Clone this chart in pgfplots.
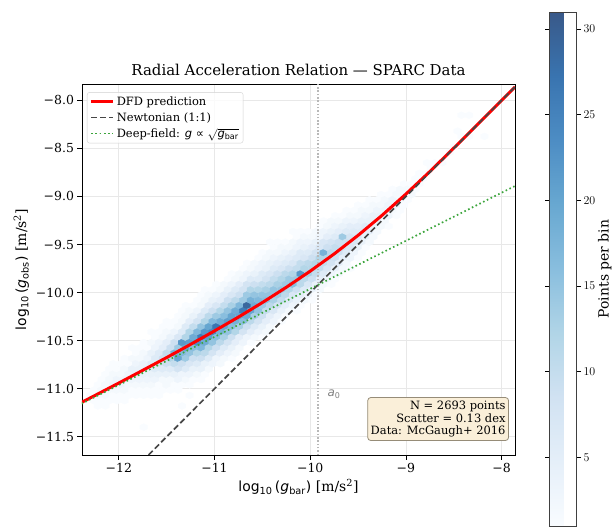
\documentclass[border=0pt]{standalone}
\usepackage{fontspec}
\setmainfont{DejaVu Serif}
\newfontfamily\dvsans{DejaVu Sans}
\usepackage{pgfplots}
\pgfplotsset{compat=1.18}

\definecolor{dfdred}{RGB}{255,0,0}
\definecolor{newtgray}{RGB}{70,70,70}
\definecolor{deepgreen}{RGB}{60,165,60}
\definecolor{boxface}{RGB}{250,239,217}
\definecolor{boxedge}{RGB}{150,140,120}

% pointy-top hexagon, sized to one hexbin cell (dx=0.08, dy=0.11 at ~96bp/unit)
\pgfdeclareplotmark{hexbin}{%
  \pgfpathmoveto{\pgfpoint{3.84bp}{-1.76bp}}%
  \pgfpathlineto{\pgfpoint{3.84bp}{1.76bp}}%
  \pgfpathlineto{\pgfpoint{0bp}{3.52bp}}%
  \pgfpathlineto{\pgfpoint{-3.84bp}{1.76bp}}%
  \pgfpathlineto{\pgfpoint{-3.84bp}{-1.76bp}}%
  \pgfpathlineto{\pgfpoint{0bp}{-3.52bp}}%
  \pgfpathclose
  \pgfusepathqfillstroke}

\newcommand{\lgten}[1]{{\dvsans log\textsubscript{10}\,(\textit{g}\textsubscript{#1})}}

\pgfplotstableread{
x y c
-12.30 -11.070 1
-12.26 -11.125 1
-12.26 -11.015 1
-12.22 -11.070 2
-12.22 -10.960 1
-12.22 -11.180 1
-12.18 -11.015 2
-12.18 -11.125 1
-12.18 -10.905 1
-12.14 -10.960 2
-12.14 -11.070 2
-12.14 -10.850 1
-12.14 -11.180 1
-12.10 -11.015 2
-12.10 -10.905 2
-12.10 -10.795 1
-12.10 -11.125 1
-12.06 -10.960 3
-12.06 -11.070 1
-12.06 -10.850 2
-12.06 -10.740 1
-12.02 -11.015 2
-12.02 -10.905 3
-12.02 -10.795 1
-12.02 -11.125 1
-11.98 -10.960 3
-11.98 -10.850 2
-11.98 -11.070 1
-11.98 -10.740 1
-11.94 -10.905 3
-11.94 -11.015 2
-11.94 -10.795 2
-11.94 -10.685 1
-11.94 -11.125 1
-11.90 -10.850 3
-11.90 -10.960 2
-11.90 -10.740 1
-11.90 -11.070 1
-11.86 -10.905 3
-11.86 -10.795 4
-11.86 -10.685 2
-11.86 -11.015 1
-11.86 -10.575 1
-11.82 -10.850 4
-11.82 -10.960 2
-11.82 -10.740 3
-11.82 -10.630 1
-11.82 -11.070 1
-11.78 -10.795 4
-11.78 -10.905 3
-11.78 -10.685 2
-11.78 -11.015 1
-11.78 -10.575 1
-11.74 -10.850 4
-11.74 -10.740 4
-11.74 -10.960 2
-11.74 -10.630 2
-11.74 -10.520 1
-11.74 -11.070 1
-11.74 -11.400 1
-11.70 -10.795 5
-11.70 -10.685 3
-11.70 -10.905 3
-11.70 -10.575 1
-11.70 -11.015 1
-11.66 -10.740 6
-11.66 -10.850 4
-11.66 -10.630 4
-11.66 -10.960 2
-11.66 -10.520 2
-11.66 -10.410 1
-11.66 -11.070 1
-11.62 -10.795 6
-11.62 -10.685 6
-11.62 -10.905 3
-11.62 -10.575 3
-11.62 -10.465 1
-11.62 -11.015 1
-11.58 -10.740 8
-11.58 -10.630 6
-11.58 -10.850 4
-11.58 -10.520 3
-11.58 -10.960 1
-11.58 -10.410 1
-11.58 -11.070 1
-11.54 -10.685 9
-11.54 -10.795 6
-11.54 -10.575 5
-11.54 -10.905 2
-11.54 -10.465 2
-11.54 -10.355 1
-11.54 -11.015 1
-11.50 -10.740 9
-11.50 -10.630 10
-11.50 -10.850 4
-11.50 -10.520 5
-11.50 -10.960 2
-11.50 -10.410 2
-11.50 -10.300 1
-11.46 -10.685 12
-11.46 -10.575 9
-11.46 -10.795 6
-11.46 -10.465 4
-11.46 -10.905 2
-11.46 -10.355 1
-11.46 -11.015 1
-11.42 -10.630 18
-11.42 -10.740 10
-11.42 -10.520 9
-11.42 -10.850 4
-11.42 -10.410 3
-11.42 -10.960 1
-11.42 -10.300 1
-11.38 -10.685 20
-11.38 -10.575 14
-11.38 -10.795 8
-11.38 -10.465 7
-11.38 -10.905 3
-11.38 -10.355 2
-11.38 -10.245 1
-11.38 -11.015 1
-11.34 -10.630 17
-11.34 -10.520 22
-11.34 -10.740 9
-11.34 -10.410 6
-11.34 -10.850 3
-11.34 -10.300 2
-11.34 -10.960 1
-11.34 -10.190 1
-11.34 -11.180 1
-11.30 -10.575 20
-11.30 -10.465 12
-11.30 -10.685 14
-11.30 -10.355 6
-11.30 -10.795 6
-11.30 -10.245 2
-11.30 -10.905 2
-11.30 -10.135 1
-11.26 -10.520 21
-11.26 -10.630 15
-11.26 -10.410 12
-11.26 -10.740 7
-11.26 -10.300 5
-11.26 -10.850 3
-11.26 -10.190 2
-11.26 -10.960 1
-11.26 -11.070 1
-11.22 -10.575 16
-11.22 -10.465 19
-11.22 -10.685 9
-11.22 -10.355 10
-11.22 -10.795 4
-11.22 -10.245 4
-11.22 -10.135 1
-11.22 -10.905 1
-11.18 -10.520 23
-11.18 -10.410 17
-11.18 -10.630 12
-11.18 -10.300 8
-11.18 -10.740 6
-11.18 -10.190 3
-11.18 -10.850 2
-11.18 -10.080 1
-11.14 -10.465 26
-11.14 -10.575 17
-11.14 -10.355 15
-11.14 -10.685 9
-11.14 -10.245 7
-11.14 -10.795 4
-11.14 -10.135 2
-11.14 -10.905 1
-11.14 -10.025 1
-11.10 -10.410 22
-11.10 -10.520 19
-11.10 -10.300 12
-11.10 -10.630 11
-11.10 -10.190 6
-11.10 -10.740 4
-11.10 -10.080 2
-11.10 -10.850 1
-11.10 -9.970 1
-11.06 -10.465 21
-11.06 -10.355 20
-11.06 -10.575 12
-11.06 -10.245 11
-11.06 -10.685 6
-11.06 -10.135 5
-11.06 -10.795 2
-11.06 -10.025 2
-11.02 -10.410 24
-11.02 -10.520 15
-11.02 -10.300 17
-11.02 -10.630 8
-11.02 -10.190 9
-11.02 -10.740 3
-11.02 -10.080 4
-11.02 -9.970 1
-10.98 -10.355 27
-10.98 -10.465 16
-10.98 -10.245 14
-10.98 -10.575 9
-10.98 -10.135 7
-10.98 -10.685 3
-10.98 -10.025 3
-10.98 -9.915 1
-10.94 -10.410 18
-10.94 -10.300 19
-10.94 -10.520 11
-10.94 -10.190 12
-10.94 -10.630 5
-10.94 -10.080 5
-10.94 -9.970 2
-10.94 -10.740 2
-10.90 -10.355 20
-10.90 -10.245 16
-10.90 -10.465 13
-10.90 -10.135 10
-10.90 -10.575 6
-10.90 -10.025 5
-10.90 -10.685 2
-10.90 -9.915 2
-10.86 -10.300 21
-10.86 -10.410 15
-10.86 -10.190 15
-10.86 -10.520 8
-10.86 -10.080 9
-10.86 -10.630 3
-10.86 -9.970 4
-10.86 -9.860 1
-10.82 -10.355 16
-10.82 -10.245 20
-10.82 -10.465 9
-10.82 -10.135 13
-10.82 -10.575 4
-10.82 -10.025 7
-10.82 -9.915 3
-10.82 -10.685 1
-10.82 -9.805 1
-10.78 -10.300 18
-10.78 -10.190 19
-10.78 -10.410 12
-10.78 -10.080 11
-10.78 -10.520 5
-10.78 -9.970 6
-10.78 -9.860 2
-10.78 -10.630 2
-10.74 -10.245 20
-10.74 -10.135 17
-10.74 -10.355 13
-10.74 -10.025 9
-10.74 -10.465 5
-10.74 -9.915 5
-10.74 -10.575 2
-10.74 -9.805 2
-10.70 -10.190 26
-10.70 -10.300 16
-10.70 -10.080 14
-10.70 -10.410 8
-10.70 -9.970 8
-10.70 -10.520 3
-10.70 -9.860 3
-10.70 -9.750 1
-10.66 -10.135 29
-10.66 -10.245 19
-10.66 -10.025 14
-10.66 -10.355 9
-10.66 -9.915 8
-10.66 -10.465 3
-10.66 -9.805 3
-10.66 -9.695 1
-10.62 -10.190 20
-10.62 -10.080 18
-10.62 -10.300 11
-10.62 -9.970 12
-10.62 -10.410 5
-10.62 -9.860 6
-10.62 -9.750 2
-10.62 -10.520 1
-10.58 -10.135 19
-10.58 -10.245 13
-10.58 -10.025 15
-10.58 -10.355 6
-10.58 -9.915 9
-10.58 -9.805 4
-10.58 -10.465 2
-10.58 -9.695 2
-10.54 -10.190 15
-10.54 -10.080 17
-10.54 -10.300 8
-10.54 -9.970 12
-10.54 -10.410 3
-10.54 -9.860 6
-10.54 -9.750 3
-10.54 -9.640 1
-10.50 -10.135 14
-10.50 -10.025 15
-10.50 -10.245 9
-10.50 -9.915 10
-10.50 -10.355 4
-10.50 -9.805 6
-10.50 -9.695 3
-10.50 -10.465 1
-10.50 -9.585 1
-10.46 -10.080 16
-10.46 -10.190 10
-10.46 -9.970 13
-10.46 -10.300 5
-10.46 -9.860 8
-10.46 -9.750 4
-10.46 -10.410 2
-10.46 -9.640 2
-10.42 -10.025 15
-10.42 -10.135 11
-10.42 -9.915 11
-10.42 -10.245 5
-10.42 -9.805 7
-10.42 -9.695 4
-10.42 -10.355 2
-10.42 -9.585 2
-10.42 -9.475 1
-10.38 -10.080 13
-10.38 -9.970 15
-10.38 -10.190 7
-10.38 -9.860 10
-10.38 -10.300 3
-10.38 -9.750 6
-10.38 -9.640 3
-10.38 -9.530 1
-10.34 -10.025 14
-10.34 -9.915 13
-10.34 -10.135 8
-10.34 -9.805 9
-10.34 -10.245 3
-10.34 -9.695 5
-10.34 -9.585 2
-10.34 -9.475 1
-10.30 -9.970 15
-10.30 -10.080 10
-10.30 -9.860 12
-10.30 -10.190 4
-10.30 -9.750 7
-10.30 -9.640 4
-10.30 -10.300 1
-10.30 -9.530 2
-10.26 -9.915 14
-10.26 -10.025 11
-10.26 -9.805 11
-10.26 -10.135 5
-10.26 -9.695 6
-10.26 -9.585 3
-10.26 -10.245 1
-10.26 -9.475 1
-10.22 -9.970 12
-10.22 -9.860 14
-10.22 -10.080 6
-10.22 -9.750 9
-10.22 -10.190 2
-10.22 -9.640 5
-10.22 -9.530 2
-10.18 -9.915 16
-10.18 -9.805 12
-10.18 -10.025 7
-10.18 -9.695 7
-10.18 -10.135 3
-10.18 -9.585 4
-10.18 -9.475 2
-10.18 -9.365 1
-10.14 -9.860 14
-10.14 -9.970 9
-10.14 -9.750 10
-10.14 -10.080 4
-10.14 -9.640 6
-10.14 -9.530 3
-10.14 -10.190 1
-10.14 -9.420 1
-10.10 -9.805 22
-10.10 -9.915 11
-10.10 -9.695 10
-10.10 -10.025 5
-10.10 -9.585 6
-10.10 -9.475 3
-10.10 -10.135 1
-10.10 -9.365 1
-10.06 -9.860 11
-10.06 -9.750 12
-10.06 -9.970 6
-10.06 -9.640 7
-10.06 -10.080 2
-10.06 -9.530 4
-10.06 -9.420 2
-10.02 -9.805 13
-10.02 -9.695 11
-10.02 -9.915 7
-10.02 -9.585 6
-10.02 -10.025 3
-10.02 -9.475 3
-10.02 -9.365 1
-9.98 -9.750 12
-9.98 -9.860 9
-9.98 -9.640 9
-9.98 -9.970 4
-9.98 -9.530 5
-9.98 -9.420 2
-9.98 -10.080 1
-9.94 -9.695 12
-9.94 -9.805 10
-9.94 -9.585 8
-9.94 -9.915 4
-9.94 -9.475 4
-9.94 -9.365 2
-9.94 -10.025 1
-9.90 -9.750 10
-9.90 -9.640 12
-9.90 -9.860 5
-9.90 -9.530 7
-9.90 -9.970 2
-9.90 -9.420 3
-9.90 -9.310 1
-9.86 -9.695 10
-9.86 -9.585 18
-9.86 -9.805 6
-9.86 -9.475 7
-9.86 -9.915 2
-9.86 -9.365 3
-9.86 -9.255 1
-9.82 -9.640 12
-9.82 -9.750 7
-9.82 -9.530 9
-9.82 -9.860 3
-9.82 -9.420 5
-9.82 -9.310 2
-9.78 -9.585 11
-9.78 -9.695 8
-9.78 -9.475 8
-9.78 -9.805 3
-9.78 -9.365 4
-9.78 -9.255 2
-9.78 -9.915 1
-9.74 -9.640 9
-9.74 -9.530 10
-9.74 -9.750 4
-9.74 -9.420 6
-9.74 -9.860 1
-9.74 -9.310 3
-9.74 -9.200 1
-9.70 -9.585 9
-9.70 -9.475 9
-9.70 -9.695 5
-9.70 -9.365 5
-9.70 -9.805 2
-9.70 -9.255 2
-9.66 -9.420 14
-9.66 -9.530 9
-9.66 -9.640 5
-9.66 -9.310 4
-9.66 -9.750 2
-9.66 -9.200 1
-9.62 -9.475 9
-9.62 -9.585 6
-9.62 -9.365 6
-9.62 -9.695 2
-9.62 -9.255 3
-9.62 -9.145 1
-9.58 -9.530 7
-9.58 -9.420 8
-9.58 -9.640 3
-9.58 -9.310 5
-9.58 -9.200 2
-9.58 -9.750 1
-9.54 -9.475 7
-9.54 -9.365 6
-9.54 -9.585 3
-9.54 -9.255 3
-9.54 -9.145 1
-9.50 -9.420 7
-9.50 -9.530 4
-9.50 -9.310 5
-9.50 -9.640 1
-9.50 -9.200 2
-9.50 -9.090 1
-9.46 -9.365 6
-9.46 -9.475 4
-9.46 -9.255 4
-9.46 -9.585 1
-9.46 -9.145 2
-9.42 -9.310 6
-9.42 -9.420 4
-9.42 -9.200 3
-9.42 -9.530 1
-9.42 -9.090 1
-9.38 -9.365 5
-9.38 -9.255 4
-9.38 -9.475 2
-9.38 -9.145 2
-9.38 -9.035 1
-9.34 -9.310 4
-9.34 -9.200 4
-9.34 -9.420 2
-9.34 -9.090 2
-9.30 -9.255 4
-9.30 -9.145 3
-9.30 -9.365 2
-9.30 -9.035 1
-9.26 -9.200 4
-9.26 -9.310 2
-9.26 -9.090 2
-9.26 -8.980 1
-9.22 -9.145 3
-9.22 -9.255 2
-9.22 -9.035 2
-9.18 -9.200 3
-9.18 -9.090 3
-9.18 -8.980 1
-9.18 -9.310 1
-9.14 -9.145 2
-9.14 -9.035 3
-9.14 -8.925 1
-9.10 -9.090 3
-9.10 -8.980 2
-9.10 -9.200 1
-9.06 -9.035 2
-9.06 -8.925 2
-9.06 -9.145 1
-9.02 -8.980 2
-9.02 -9.090 1
-9.02 -8.870 1
-8.98 -8.925 2
-8.98 -9.035 1
-8.94 -8.870 1
-8.94 -8.980 2
-8.90 -8.925 1
-8.90 -8.815 1
-8.86 -8.870 1
-8.86 -8.760 1
-8.82 -8.815 1
-8.78 -8.760 1
-8.78 -8.650 1
-8.74 -8.705 1
-8.70 -8.650 1
-8.62 -8.650 1
-8.54 -8.540 1
-8.50 -8.485 1
-8.46 -8.320 1
-8.42 -8.155 1
-8.42 -8.375 1
-8.34 -8.155 1
-8.34 -8.375 1
-8.18 -8.375 1
}\hexdata

\begin{document}
\begin{tikzpicture}
\begin{axis}[
    scale only axis,
    width=433bp, height=371bp,
    xmin=-12.385, xmax=-7.86,
    ymin=-11.69, ymax=-7.83,
    clip marker paths=true,
    xtick={-12,-11,-10,-9,-8},
    xticklabels={−12,−11,−10,−9,−8},
    ytick={-11.5,-11,-10.5,-10,-9.5,-9,-8.5,-8},
    yticklabels={−11.5,−11.0,−10.5,−10.0,−9.5,−9.0,−8.5,−8.0},
    ticklabel style={font=\fontsize{12.5}{14}\selectfont},
    xtick pos=lower, ytick pos=left,
    tick align=outside, major tick length=4.5bp,
    tick style={black, line width=0.8bp},
    axis line style={black, line width=0.8bp},
    grid=major,
    grid style={draw=black!9, line width=0.8bp},
    title={Radial Acceleration Relation --- SPARC Data},
    title style={font=\fontsize{15}{17}\selectfont, yshift=-1bp},
    xlabel={\lgten{bar} [m/s\textsuperscript{2}]},
    ylabel={\lgten{obs} [m/s\textsuperscript{2}]},
    label style={font=\fontsize{14}{16}\selectfont},
    colormap={mpblues}{rgb255(0cm)=(249,252,255) rgb255(1cm)=(229,239,249)
        rgb255(2cm)=(209,226,242) rgb255(3cm)=(177,213,231) rgb255(4cm)=(137,190,222)
        rgb255(5cm)=(104,168,209) rgb255(6cm)=(77,141,196) rgb255(7cm)=(57,116,176)
        rgb255(8cm)=(57,89,137)},
    point meta min=1, point meta max=31,
    colorbar right,
    colorbar style={
        at={(459bp,443bp)}, anchor=north west,
        scale only axis, width=27bp, height=514bp,
        ytick={5,10,15,20,25,30},
        yticklabel style={font=\fontsize{11.5}{13}\selectfont, xshift=-1bp},
        ylabel={Points per bin},
        ylabel style={font=\fontsize{14}{16}\selectfont},
        ylabel shift=-4bp,
        axis line style={black!75, line width=0.8bp},
        tick style={black, line width=0.8bp},
        major tick length=4.5bp, tick align=outside,
    },
    legend style={at={(0.0115,0.978)}, anchor=north west,
        font=\fontsize{11.5}{13}\selectfont,
        draw=black!18, rounded corners=2.5bp,
        fill=white, fill opacity=0.8, text opacity=1,
        inner sep=2.5bp, row sep=1.5bp},
    legend cell align=left,
    legend image post style={xscale=1.3},
]

% hexbin cells (counts per bin)
\addplot[scatter, only marks, mark=hexbin, line width=0.3bp,
    scatter/use mapped color={draw=mapped color, fill=mapped color},
    point meta=explicit, forget plot]
    table[x=x, y=y, meta=c] {\hexdata};

% a0 marker
\addplot[black!28, line width=1.5bp, dash pattern=on 1.5bp off 1.8bp, forget plot]
    coordinates {(-9.921,-11.69) (-9.921,-7.83)};
\node[anchor=west, inner sep=0, text=black!50, font=\fontsize{12}{14}\selectfont]
    at (axis cs:-9.82,-11.06) {\dvsans\textit{a}\textsubscript{0}};

% model curve
\addplot[dfdred, line width=3bp] coordinates {
    (-12.39,-11.143) (-12.25,-11.071) (-12.00,-10.941) (-11.75,-10.809)
    (-11.50,-10.676) (-11.25,-10.539) (-11.00,-10.399) (-10.75,-10.255)
    (-10.50,-10.104) (-10.25,-9.945) (-10.00,-9.777) (-9.75,-9.598)
    (-9.50,-9.405) (-9.25,-9.197) (-9.00,-8.975) (-8.75,-8.741)
    (-8.50,-8.497) (-8.25,-8.250) (-8.00,-8.000) (-7.86,-7.860)
};
\addlegendentry{DFD prediction}

\addplot[newtgray, line width=1.7bp, dash pattern=on 6bp off 3bp] coordinates {
    (-11.69,-11.69) (-7.86,-7.86)
};
\addlegendentry{Newtonian (1:1)}

\addplot[deepgreen, line width=1.7bp, dash pattern=on 1.6bp off 2.6bp] coordinates {
    (-12.39,-11.156) (-7.86,-8.891)
};
\addlegendentry{Deep-field: {\dvsans\textit{g} ∝} $\sqrt{\hbox{\dvsans\textit{g}\textsubscript{bar}}}$}

\node[anchor=south east, align=right, fill=boxface, draw=boxedge, line width=0.8bp,
    rounded corners=3bp, inner sep=3bp, font=\fontsize{11.5}{13}\selectfont]
    at (rel axis cs:0.986,0.038)
    {N = 2693 points\\Scatter = 0.13 dex\\Data: McGaugh+ 2016};
\end{axis}
\pgfresetboundingbox
\path[use as bounding box] (-82bp,-72bp) rectangle (531bp,455bp);
\end{tikzpicture}
\end{document}
